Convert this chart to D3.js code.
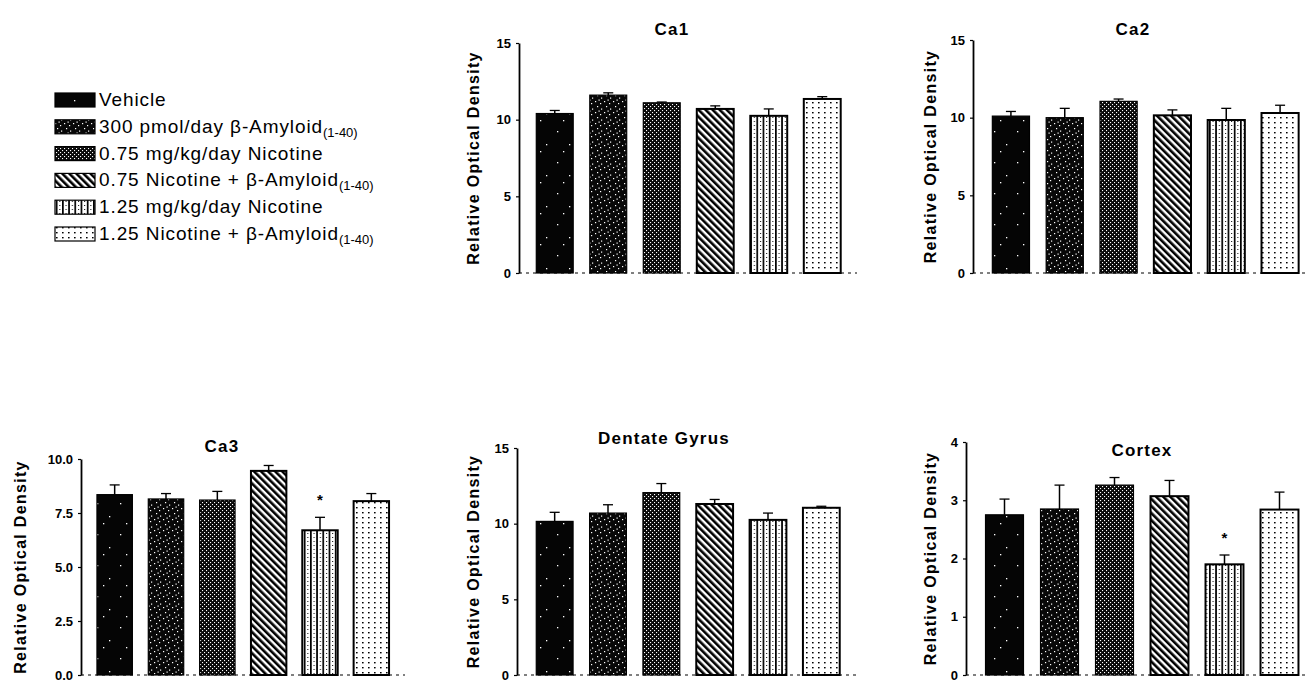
<!DOCTYPE html>
<html>
<head>
<meta charset="utf-8">
<script src="https://cdnjs.cloudflare.com/ajax/libs/d3/7.8.5/d3.min.js"></script>
<style>
  body { margin: 0; background: #fff; }
  svg { display: block; font-family: "Liberation Sans", Arial, sans-serif; }
</style>
</head>
<body>
<div id="chart"></div>
<script>
// groups (same order in every panel)
const groupKeys = ['veh', 'ab', 'nic075', 'nic075ab', 'nic125', 'nic125ab'];
const legendMain = ['Vehicle', '300 pmol/day β-Amyloid', '0.75 mg/kg/day Nicotine',
                    '0.75 Nicotine + β-Amyloid', '1.25 mg/kg/day Nicotine', '1.25 Nicotine + β-Amyloid'];
const legendSub = ['', '(1-40)', '', '(1-40)', '', '(1-40)'];

// values
const ca1Mean = [10.4, 11.6, 11.1, 10.7, 10.25, 11.35];
const ca1Err  = [0.2, 0.15, 0.05, 0.2, 0.45, 0.15];
const ca2Mean = [10.1, 10.0, 11.05, 10.15, 9.85, 10.3];
const ca2Err  = [0.3, 0.6, 0.15, 0.35, 0.75, 0.5];
const ca3Mean = [8.35, 8.15, 8.1, 9.45, 6.7, 8.05];
const ca3Err  = [0.45, 0.25, 0.4, 0.25, 0.6, 0.35];
const dgMean  = [10.15, 10.7, 12.05, 11.3, 10.25, 11.05];
const dgErr   = [0.6, 0.55, 0.6, 0.3, 0.45, 0.1];
const ctxMean = [2.75, 2.85, 3.26, 3.07, 1.9, 2.84];
const ctxErr  = [0.27, 0.41, 0.13, 0.27, 0.16, 0.3];

const noSig  = [false, false, false, false, false, false];
const ca3Sig = [false, false, false, false, true, false];
const ctxSig = [false, false, false, false, true, false];

const ticks15 = [0, 5, 10, 15];
const ticks10 = [0, 2.5, 5, 7.5, 10];
const ticks4  = [0, 1, 2, 3, 4];

const W = 1307, H = 683;

const svg = d3.select('#chart').append('svg')
    .attr('width', W)
    .attr('height', H);

// fill patterns imitating the scanned hatching
const defs = svg.append('defs');

function pattern(id, w, h, bg) {
    const p = defs.append('pattern')
        .attr('id', id)
        .attr('patternUnits', 'userSpaceOnUse')
        .attr('width', w)
        .attr('height', h);
    p.append('rect').attr('width', w).attr('height', h).attr('fill', bg);
    return p;
}

const pVeh = pattern('veh', 23, 31, '#050505');
[[5, 7], [17, 20], [11, 27]].forEach(d =>
    pVeh.append('rect').attr('x', d[0]).attr('y', d[1]).attr('width', 1.3).attr('height', 1.3).attr('fill', '#fff'));

const pAb = pattern('ab', 9, 11, '#080808');
[[1, 2], [6, 4], [3, 7], [7, 9.5], [4.5, 0.5]].forEach(d =>
    pAb.append('rect').attr('x', d[0]).attr('y', d[1]).attr('width', 1.2).attr('height', 1.2).attr('fill', '#fff'));

const pNic = pattern('nic075', 4, 4, '#0a0a0a');
[[0, 0], [2, 2]].forEach(d =>
    pNic.append('rect').attr('x', d[0]).attr('y', d[1]).attr('width', 1.1).attr('height', 1.1).attr('fill', '#fff'));

const pNicAb = pattern('nic075ab', 5, 5, '#fff').attr('patternTransform', 'rotate(-45)');
pNicAb.append('rect').attr('width', 2.6).attr('height', 5).attr('fill', '#000');

const pNic125 = pattern('nic125', 6.2, 4, '#fff');
pNic125.append('rect').attr('width', 1.7).attr('height', 4).attr('fill', '#000');
pNic125.append('rect').attr('x', 3.6).attr('y', 1).attr('width', 1).attr('height', 1).attr('fill', '#000');

const pNic125Ab = pattern('nic125ab', 6, 5, '#fff');
pNic125Ab.append('rect').attr('x', 2).attr('y', 2).attr('width', 1.6).attr('height', 1.4).attr('fill', '#000');

const fillOf = k => `url(#${k})`;

// legend
const legY = d3.scalePoint().domain(groupKeys).range([100, 234]);
const leg = svg.append('g');
groupKeys.forEach((k, i) => {
    const y = legY(k);
    leg.append('rect')
        .attr('x', 55).attr('y', y - 7)
        .attr('width', 40).attr('height', 14)
        .attr('fill', fillOf(k))
        .attr('stroke', '#000').attr('stroke-width', 1.2);
    const t = leg.append('text')
        .attr('x', 99).attr('y', y + 6)
        .attr('font-size', 19)
        .attr('letter-spacing', 0.9)
        .attr('fill', '#000')
        .text(legendMain[i]);
    if (legendSub[i]) {
        t.append('tspan').attr('dy', 4).attr('font-size', 13).attr('letter-spacing', 0).text(legendSub[i]);
    }
});

// panels
const panels = [
    { title: 'Ca1', mean: ca1Mean, err: ca1Err, sig: noSig, ticks: ticks15, fmt: d3.format('d'), max: 15,
      axisX: 519, x0: 528, x1: 849, yTop: 43, yBase: 273, titleX: 672, titleY: 35, labelX: 475 },
    { title: 'Ca2', mean: ca2Mean, err: ca2Err, sig: noSig, ticks: ticks15, fmt: d3.format('d'), max: 15,
      axisX: 973, x0: 984, x1: 1307, yTop: 40, yBase: 273, titleX: 1133, titleY: 35, labelX: 932 },
    { title: 'Ca3', mean: ca3Mean, err: ca3Err, sig: ca3Sig, ticks: ticks10, fmt: d3.format('.1f'), max: 10,
      axisX: 81, x0: 89, x1: 397, yTop: 459, yBase: 675, titleX: 222, titleY: 452, labelX: 22 },
    { title: 'Dentate Gyrus', mean: dgMean, err: dgErr, sig: noSig, ticks: ticks15, fmt: d3.format('d'), max: 15,
      axisX: 517, x0: 528, x1: 848, yTop: 448, yBase: 675, titleX: 664, titleY: 444, labelX: 475 },
    { title: 'Cortex', mean: ctxMean, err: ctxErr, sig: ctxSig, ticks: ticks4, fmt: d3.format('d'), max: 4,
      axisX: 966, x0: 977, x1: 1307, yTop: 442, yBase: 675, titleX: 1142, titleY: 456, labelX: 932 }
];

panels.forEach(drawPanel);

function drawPanel(p) {
    const g = svg.append('g');

    const x = d3.scaleBand()
        .domain(groupKeys)
        .range([p.x0, p.x1])
        .paddingInner(0.31)
        .paddingOuter(0.155);

    const y = d3.scaleLinear()
        .domain([0, p.max])
        .range([p.yBase, p.yTop]);

    const rows = groupKeys.map((k, i) => ({ key: k, mean: p.mean[i], err: p.err[i], sig: p.sig[i] }));

    // dotted baseline
    g.append('line')
        .attr('x1', p.axisX).attr('x2', p.x1 + 8)
        .attr('y1', y(0)).attr('y2', y(0))
        .attr('stroke', '#000').attr('stroke-width', 1)
        .attr('stroke-dasharray', '3,4');

    // bars
    g.selectAll('rect.bar')
        .data(rows)
        .join('rect')
        .attr('class', 'bar')
        .attr('x', d => x(d.key))
        .attr('y', d => y(d.mean))
        .attr('width', x.bandwidth())
        .attr('height', d => y(0) - y(d.mean))
        .attr('fill', d => fillOf(d.key))
        .attr('stroke', '#000')
        .attr('stroke-width', d => (d.key === 'nic125' || d.key === 'nic125ab' || d.key === 'nic075ab') ? 2 : 1.2);

    // error bars (upper only)
    const eb = g.selectAll('g.err')
        .data(rows)
        .join('g')
        .attr('class', 'err');
    eb.append('line')
        .attr('x1', d => x(d.key) + x.bandwidth() / 2)
        .attr('x2', d => x(d.key) + x.bandwidth() / 2)
        .attr('y1', d => y(d.mean))
        .attr('y2', d => y(d.mean + d.err))
        .attr('stroke', '#000').attr('stroke-width', 1.5);
    eb.append('line')
        .attr('x1', d => x(d.key) + x.bandwidth() / 2 - 5)
        .attr('x2', d => x(d.key) + x.bandwidth() / 2 + 5)
        .attr('y1', d => y(d.mean + d.err))
        .attr('y2', d => y(d.mean + d.err))
        .attr('stroke', '#000').attr('stroke-width', 1.3);

    // significance marks
    g.selectAll('text.sig')
        .data(rows.filter(d => d.sig))
        .join('text')
        .attr('class', 'sig')
        .attr('x', d => x(d.key) + x.bandwidth() / 2)
        .attr('y', d => y(d.mean + d.err) - 12)
        .attr('text-anchor', 'middle')
        .attr('font-size', 15)
        .attr('font-weight', 'bold')
        .text('*');

    // y axis
    const ax = g.append('g')
        .attr('transform', `translate(${p.axisX},0)`)
        .call(d3.axisLeft(y).tickValues(p.ticks).tickFormat(p.fmt).tickSize(3).tickSizeOuter(0).tickPadding(5));
    ax.select('.domain').attr('stroke-width', 1.8);
    ax.selectAll('.tick line').attr('stroke-width', 1.2);
    ax.selectAll('.tick text')
        .attr('font-size', 13)
        .attr('font-weight', 'bold')
        .attr('font-family', '"Liberation Sans", Arial, sans-serif')
        .attr('fill', '#000');

    // axis title
    g.append('text')
        .attr('transform', `translate(${p.labelX},${(p.yTop + p.yBase) / 2}) rotate(-90)`)
        .attr('text-anchor', 'middle')
        .attr('dominant-baseline', 'middle')
        .attr('font-size', 16)
        .attr('letter-spacing', 1.3)
        .attr('font-weight', 'bold')
        .text('Relative Optical Density');

    // panel title
    g.append('text')
        .attr('x', p.titleX)
        .attr('y', p.titleY)
        .attr('text-anchor', 'middle')
        .attr('font-size', 17)
        .attr('letter-spacing', 1.2)
        .attr('font-weight', 'bold')
        .text(p.title);
}
</script>
</body>
</html>
